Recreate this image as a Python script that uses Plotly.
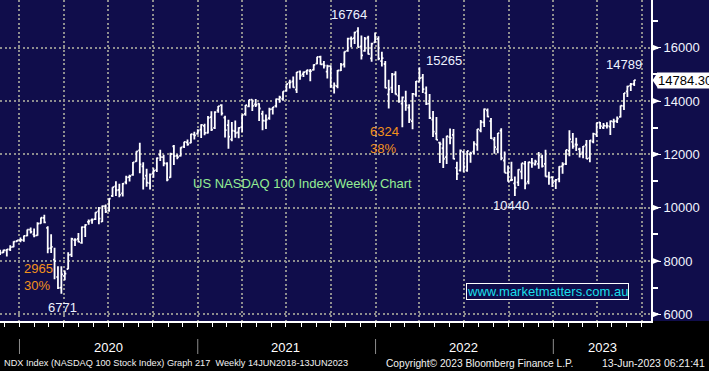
import pandas as pd
import plotly.graph_objects as go

# ---------------- data (weekly bars, week-ending Friday) ----------------
week_end = pd.date_range("2019-11-22", "2023-06-16", freq="W-FRI")

opens = [
    8400, 8320, 8400, 8440, 8530, 8735,
    8775, 8780, 8950, 9180, 9000, 8960, 9410, 9620, 9240, 8480, 8050, 7400, 7000, 7440, 7700, 8240, 8780, 8830,
    8680, 9270, 9470, 9530, 9570, 9860, 9480, 10060, 9900, 10440, 10800, 10670, 10540, 10960, 11150, 11230, 11740,
    12150, 11550, 11200, 10920, 11290, 11410, 11980, 11900, 11650, 11140, 12300, 11950, 11940, 12290, 12450, 12430,
    12740, 12780,
    12930, 13070, 12810, 13400, 12990, 13650, 13850, 13380, 13100, 12560, 12870, 12820, 13020, 13520, 13800, 14050,
    13870, 13900, 13520, 13260, 13360, 13700, 13820, 14060, 14080, 14390, 14690, 14740, 14430, 15100, 15010, 15100,
    15120, 15170, 15400, 15660, 15380, 15100, 15310, 14500, 14560, 15150, 15380, 15880, 16340, 16360, 16620, 16050,
    15880, 16380, 15600, 16200,
    16330, 15500, 15390, 14250, 14500, 15000, 14200, 13900, 14000, 13750, 13250, 14250, 14730, 14880, 14300, 13900,
    13300, 12780, 12440, 12230, 11900, 12650, 12730, 11490, 11400, 12090, 11400, 12000, 12100, 12360, 12900, 13200,
    13650, 13250, 12550, 12200, 12890, 11770, 11300, 11030, 10910, 10950, 11350, 11640, 10980, 11690, 11620, 11640,
    11900, 11640, 11170, 11150,
    11000, 11080, 11550, 11640, 12130, 12470, 12370, 12200, 12070, 12360, 11860, 12480, 12750, 13200, 13000, 13070,
    13040, 13230, 13250, 13410, 13820, 14360, 14580, 14640,
]
highs = [
    8420, 8420, 8450, 8590, 8740, 8790,
    8880, 8960, 9180, 9260, 9220, 9450, 9630, 9736, 9300, 9000, 8500, 7800, 7800, 7640, 8330, 8870, 8850, 9050,
    9290, 9380, 9560, 9590, 9830, 10030, 10080, 10120, 10350, 10770, 10990, 10900, 10930, 11200, 11240, 11710, 12120,
    12440, 11700, 11460, 11280, 11480, 11880, 12170, 11990, 11700, 12060, 12350, 12000, 12270, 12470, 12560, 12770,
    12850, 12940,
    13130, 13150, 13440, 13620, 13620, 13810, 13880, 13450, 13300, 13210, 13270, 13020, 13490, 13850, 14050, 14060,
    14080, 13920, 13640, 13500, 13750, 13780, 14100, 14200, 14370, 14650, 14800, 14920, 15090, 15150, 15110, 15170,
    15200, 15380, 15660, 15700, 15500, 15360, 15340, 14700, 15160, 15430, 15860, 16370, 16420, 16600, 16764, 16460,
    16400, 16450, 16190, 16570,
    16430, 15850, 15500, 14800, 15050, 15120, 14600, 14170, 14390, 13880, 14300, 14750, 15265, 15010, 14550, 14260,
    13630, 13400, 12470, 12600, 12700, 12970, 12950, 11720, 12180, 12140, 12130, 12100, 12490, 12950, 13290, 13720,
    13720, 13360, 12650, 12800, 12980, 12110, 11580, 11720, 11170, 11440, 11670, 11750, 11720, 11860, 11800, 12090,
    11990, 12170, 11350, 11170,
    11080, 11550, 11700, 12170, 12900, 12800, 12620, 12250, 12310, 12540, 12540, 12810, 13190, 13210, 13180, 13200,
    13270, 13340, 13420, 13830, 14300, 14570, 14680, 14789,
]
lows = [
    8230, 8300, 8170, 8380, 8520, 8720,
    8700, 8720, 8930, 9030, 8890, 8950, 9400, 9420, 8290, 8300, 7320, 6950, 6771, 7280, 7690, 8150, 8560, 8700,
    8650, 8900, 9360, 9400, 9540, 9380, 9460, 9800, 9850, 10400, 10440, 10390, 10420, 10880, 10980, 11200, 11720,
    11290, 10680, 10790, 10680, 11120, 11340, 11750, 11550, 10990, 11120, 11600, 11820, 11920, 12240, 12320, 12420,
    12560, 12740,
    12610, 12720, 12780, 12880, 12950, 13560, 13460, 12630, 12210, 12490, 12620, 12600, 12840, 13450, 13770, 13630,
    13780, 13250, 12900, 12950, 13300, 13500, 13760, 13940, 14010, 14360, 14470, 14500, 14300, 14800, 14900, 14990,
    14740, 15150, 15380, 15360, 15220, 14850, 14500, 14280, 14480, 15130, 15260, 15850, 16020, 16140, 16020, 15560,
    15850, 15750, 15470, 16190,
    15530, 15300, 14480, 13720, 14300, 14250, 13940, 13020, 13640, 13180, 12940, 14160, 14730, 14300, 13850, 13330,
    12650, 12540, 11680, 11490, 11640, 12380, 11820, 11040, 11360, 11330, 11350, 11690, 12000, 12140, 12830, 13030,
    13390, 12580, 12020, 12040, 11780, 11310, 10970, 11000, 10440, 10810, 11070, 10690, 10880, 11500, 11580, 11460,
    11510, 11160, 10860, 10780,
    10700, 10950, 11270, 11600, 11930, 12210, 12130, 11880, 11850, 11830, 11700, 12420, 12650, 12950, 12950, 12970,
    12730, 12990, 13180, 13380, 13660, 14150, 14380, 14560,
]
closes = [
    8310, 8403, 8437, 8520, 8730, 8770,
    8793, 8942, 9174, 9090, 8952, 9402, 9623, 9446, 8462, 8530, 7995, 6994, 7502, 7528, 8228, 8832, 8793, 8718,
    9270, 9353, 9485, 9555, 9824, 9588, 10056, 9849, 10341, 10768, 10655, 10484, 10905, 11140, 11187, 11696, 12110,
    11623, 11088, 10939, 11249, 11383, 11856, 11895, 11667, 11052, 12007, 11937, 11896, 12258, 12465, 12377, 12756,
    12711, 12888,
    13105, 12804, 13366, 12925, 13588, 13807, 13536, 12909, 12669, 12889, 12810, 12993, 13480, 13845, 14041, 13819,
    13860, 13720, 13262, 13300, 13687, 13774, 14070, 14141, 14361, 14640, 14702, 14516, 15085, 14959, 15086, 15160,
    15122, 15360, 15653, 15377, 15326, 15305, 14566, 14579, 15146, 15357, 15850, 16345, 16331, 16573, 16026, 15712,
    16331, 15760, 16156, 16320,
    15594, 15611, 14497, 14441, 14996, 14254, 13990, 14140, 13838, 13301, 14269, 14735, 14861, 14449, 13898, 13365,
    12855, 12545, 12387, 11835, 12681, 12620, 11830, 11266, 12137, 11535, 12126, 12040, 12396, 12947, 13207, 13700,
    13413, 12598, 12271, 12794, 11861, 11311, 10971, 11046, 10747, 11430, 11669, 10907, 11705, 11669, 11727, 11963,
    11556, 11170, 11130, 10940,
    11040, 11541, 11620, 12166, 12573, 12303, 12360, 12008, 12302, 11830, 12520, 12768, 13181, 13063, 13080, 13065,
    13245, 13240, 13340, 13826, 14298, 14547, 14633, 14784.30,
]

years = [2020, 2021, 2022, 2023]
y_ticks = [6000, 8000, 10000, 12000, 14000, 16000]
last_price = closes[-1]

title_text = "US NASDAQ 100 Index Weekly Chart"
website = "www.marketmatters.com.au"
footer_left = "NDX Index (NASDAQ 100 Stock Index) Graph 217  Weekly 14JUN2018-13JUN2023"
footer_mid = "Copyright\u00a9 2023 Bloomberg Finance L.P."
footer_right = "13-Jun-2023 06:21:41"

# ---------------- style ----------------
BG = "#100d4b"
GRID = "#8e8e8e"
DASH = "2px,2.5px"
FONT = "Liberation Sans, Arial, sans-serif"
LABEL_C = "#eef2ff"
ORANGE = "#f3921c"
X0 = pd.Timestamp("2019-11-22")
X1 = pd.Timestamp("2023-07-20 12:00")
Y_RANGE = [5750, 17790]
PLOT_W, PLOT_H = 651, 321
px_per_val = PLOT_H / (Y_RANGE[1] - Y_RANGE[0])


def idx_of(values, lo, hi, fn):
    seg = values[lo:hi]
    return lo + seg.index(fn(seg))


fig = go.Figure(
    go.Ohlc(
        x=week_end, open=opens, high=highs, low=lows, close=closes,
        increasing=dict(line=dict(color="white", width=1.8)),
        decreasing=dict(line=dict(color="white", width=1.8)),
        tickwidth=0.45, hoverinfo="none", showlegend=False,
    )
)

shapes = []
# black band under the plot
shapes.append(dict(type="rect", xref="paper", yref="paper", x0=-0.05, x1=1.2, y0=-0.3, y1=0,
                   fillcolor="black", line=dict(width=0), layer="below"))
# year separators
for yr in years:
    shapes.append(dict(type="line", xref="x", yref="paper", x0=f"{yr}-01-01", x1=f"{yr}-01-01",
                       y0=-18 / PLOT_H, y1=-33 / PLOT_H, line=dict(color="#8c8c8c", width=1)))
# arrow heads on the right axis ticks
half = 3.2 / px_per_val
for v in y_ticks:
    shapes.append(dict(type="path", xref="paper", yref="y",
                       path=f"M {1 + 1 / PLOT_W},{v - half} L {1 + 9 / PLOT_W},{v} L {1 + 1 / PLOT_W},{v + half} Z",
                       fillcolor="white", line=dict(width=0)))
# last price tag pointer
tag_half = 8.2 / px_per_val
shapes.append(dict(type="path", xref="paper", yref="y",
                   path=f"M {1 + 1.5 / PLOT_W},{last_price} L {1 + 7 / PLOT_W},{last_price + tag_half} "
                        f"L {1 + 7 / PLOT_W},{last_price - tag_half} Z",
                   fillcolor="white", line=dict(width=0)))

annotations = []
# year labels
x1_2023 = pd.Timestamp("2023-01-01") + (X1 - pd.Timestamp("2023-01-01")) / 2
for yr in years:
    xx = f"{yr}-07-01" if yr != 2023 else x1_2023
    annotations.append(dict(text=str(yr), xref="x", yref="paper", x=xx, y=-26 / PLOT_H,
                            xanchor="center", yanchor="middle", showarrow=False,
                            font=dict(size=13, color="white", family=FONT)))
# footer
for txt, xx, anc, fs in [(footer_left, 2 / PLOT_W, "left", 9.2), (footer_mid, 479.5 / PLOT_W, "center", 10.2),
                         (footer_right, 707 / PLOT_W, "right", 10.5)]:
    annotations.append(dict(text=txt, xref="paper", yref="paper", x=xx, y=-42 / PLOT_H,
                            xanchor=anc, yanchor="middle", showarrow=False,
                            font=dict(size=fs, color="#f2f2f2", family=FONT)))

# extreme value labels attached to bars
i_feb = idx_of(highs, 0, 17, max)
i_low20 = idx_of(lows, 0, 40, min)
i_peak = idx_of(highs, 0, len(highs), max)
i_apr22 = idx_of(highs, 118, 130, max)
i_low22 = idx_of(lows, 130, 170, min)
i_last = len(highs) - 1
labels = [
    (i_peak, highs[i_peak], -9, 12.6),
    (i_apr22, highs[i_apr22], 24.6, 6.6),
    (i_last, highs[i_last], -10, 16),
    (i_low22, lows[i_low22], -4, -10),
    (i_low20, lows[i_low20], 1.5, -14),
]
for i, v, dx, dy in labels:
    annotations.append(dict(text=f"{v:.0f}", xref="x", yref="y", x=week_end[i], y=v,
                            xshift=dx, yshift=dy, showarrow=False,
                            font=dict(size=13, color=LABEL_C, family=FONT)))

# drawdowns
dd1 = highs[i_feb] - lows[i_low20]
dd2 = highs[i_peak] - lows[i_low22]
annotations.append(dict(text=f"{dd1:.0f}<br>{dd1 / highs[i_feb] * 100:.0f}%", xref="paper", yref="paper",
                        x=22 / PLOT_W, y=1 - 276.5 / PLOT_H, xanchor="left", yanchor="middle", align="left",
                        showarrow=False, font=dict(size=13, color=ORANGE, family=FONT)))
annotations.append(dict(text=f"{dd2:.0f}<br>{dd2 / highs[i_peak] * 100:.0f}%", xref="paper", yref="paper",
                        x=368 / PLOT_W, y=1 - 139.5 / PLOT_H, xanchor="left", yanchor="middle", align="left",
                        showarrow=False, font=dict(size=13, color=ORANGE, family=FONT)))
# chart title
annotations.append(dict(text=title_text, xref="paper", yref="paper", x=302 / PLOT_W, y=1 - 184 / PLOT_H,
                        xanchor="center", yanchor="middle", showarrow=False,
                        font=dict(size=13, color="#94ee94", family=FONT)))
# website box
annotations.append(dict(text=website, xref="paper", yref="paper", x=547 / PLOT_W, y=1 - 291 / PLOT_H,
                        xanchor="center", yanchor="middle", showarrow=False, bgcolor=BG,
                        bordercolor="white", borderwidth=1, borderpad=0,
                        font=dict(size=13, color="#1adfea", family=FONT)))
# last price tag
annotations.append(dict(text=f"{last_price:.2f}", xref="paper", yref="y", x=1, y=last_price,
                        xanchor="left", yanchor="middle", xshift=6, showarrow=False,
                        bgcolor="white", borderpad=0,
                        font=dict(size=13, color="black", family=FONT)))

fig.update_layout(
    width=709, height=371, autosize=False,
    margin=dict(l=0, r=709 - PLOT_W, t=0, b=371 - PLOT_H, pad=0),
    paper_bgcolor=BG, plot_bgcolor=BG,
    font=dict(family=FONT, color="white", size=13),
    showlegend=False, hovermode=False,
    xaxis=dict(
        type="date", range=[X0, X1], rangeslider=dict(visible=False),
        showgrid=True, gridcolor=GRID, griddash=DASH, gridwidth=2,
        dtick="M3", tick0="2020-01-01", ticks="outside", ticklen=4, tickcolor="white", tickwidth=1,
        showticklabels=False, showline=True, linecolor="white", linewidth=2, zeroline=False,
        minor=dict(dtick="M1", tick0="2020-01-01", ticks="outside", ticklen=4, tickcolor="white",
                   tickwidth=1, showgrid=False),
    ),
    yaxis=dict(
        side="right", range=Y_RANGE, tickvals=y_ticks, ticktext=[str(v) for v in y_ticks],
        showgrid=True, gridcolor=GRID, griddash=DASH, gridwidth=2,
        ticks="outside", ticklen=8, tickcolor="white", tickwidth=1,
        showline=True, linecolor="white", linewidth=2, zeroline=False,
        tickfont=dict(size=13, color="#f2f5ff", family=FONT),
        minor=dict(dtick=1000, tick0=0, ticks="outside", ticklen=5, tickcolor="white", tickwidth=1.5,
                   showgrid=False),
    ),
    shapes=shapes,
    annotations=annotations,
)

fig.write_html(
    "out.html",
    config={"displayModeBar": False},
    post_script="document.body.style.margin='0';document.body.style.background='%s';" % BG,
)
